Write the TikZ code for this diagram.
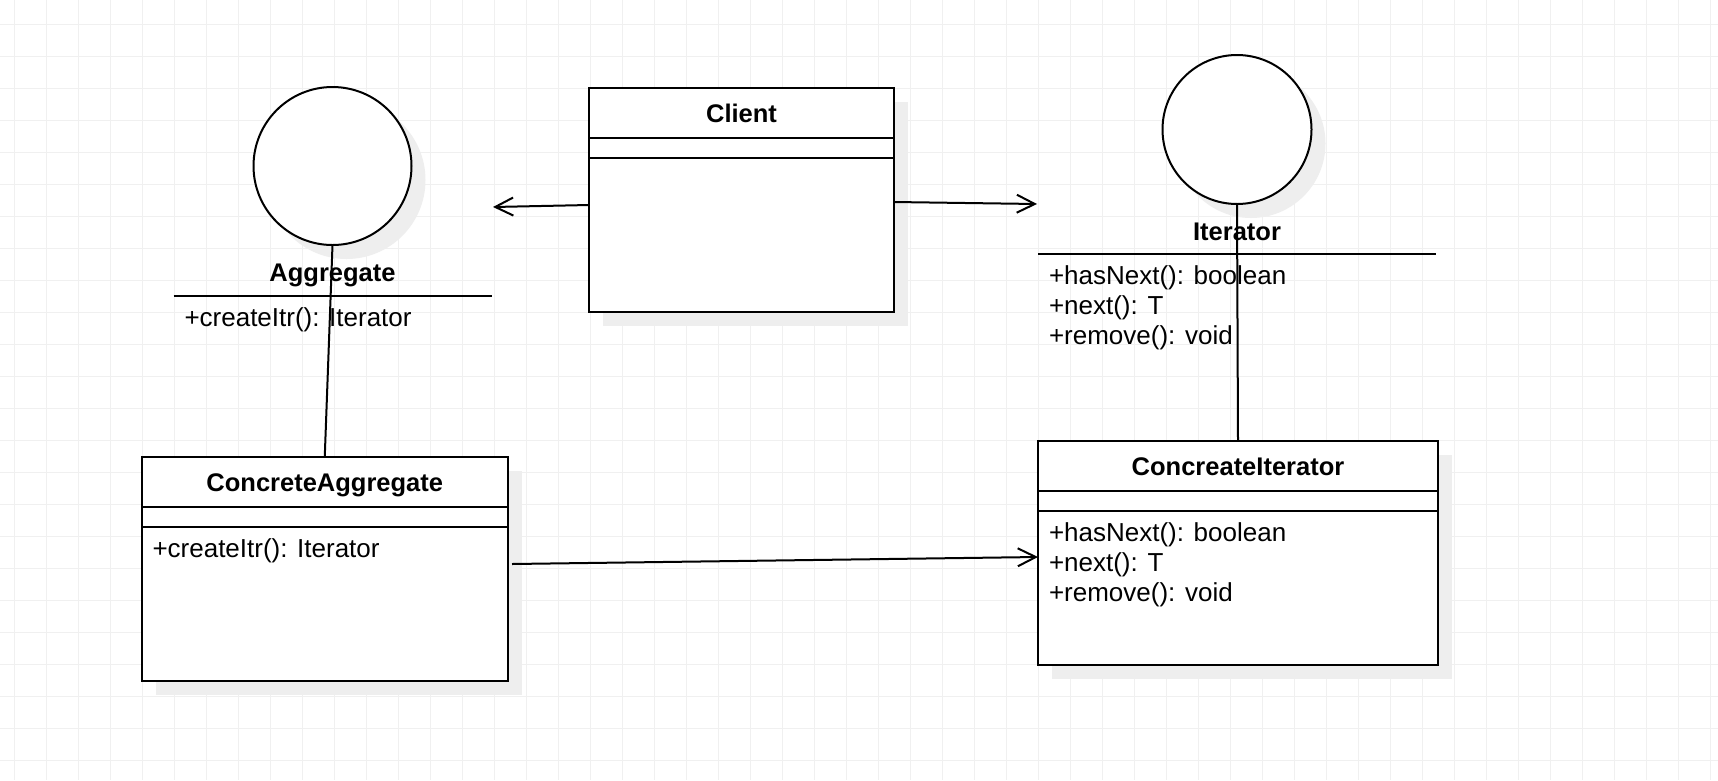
\documentclass[tikz,border=0pt]{standalone}
\usepackage{fontspec}
\setmainfont{Liberation Sans}
\usepackage{tikz}
\usetikzlibrary{arrows.meta, positioning, calc, fit, backgrounds}

\definecolor{gridgray}{RGB}{240,240,240}
\definecolor{shadowgray}{RGB}{238,238,238}

\begin{document}
\begin{tikzpicture}[
    x=1pt, y=-1pt,
    line width=2pt,
    font=\fontsize{26}{30}\selectfont,
    part/.style={rectangle, draw, fill=white, inner sep=0pt, outer sep=0pt},
    titlepart/.style={part, minimum height=50pt, text height=18pt, text depth=0pt, font=\fontsize{25.5}{30}\selectfont\bfseries},
    attrpart/.style={part, minimum height=20pt},
    opspart/.style={part, minimum height=154pt},
    iface/.style={circle, draw, fill=white, inner sep=0pt, outer sep=0pt},
    ifacename/.style={inner sep=0pt, outer sep=0pt, text height=18pt, text depth=0pt, font=\fontsize{25.5}{30}\selectfont\bfseries},
    opstext/.style={align=left, inner sep=0pt},
    shadowbox/.style={fill=shadowgray, inner sep=0pt, outer sep=0pt},
    assoc/.style={-{Straight Barb[length=18pt, width=18pt]}},
]

\useasboundingbox (0,0) rectangle (1718,780);

\begin{scope}[on background layer]
\fill[white] (0,0) rectangle (1718,780);
\draw[gridgray, line width=1pt, step=32pt, shift={(14.3,24.3)}] (-14.3,-24.3) grid (1703.7,755.7);
\end{scope}

% Client
\node[titlepart, minimum width=305pt] (client) at (741.5,113) {Client};
\node[attrpart, minimum width=305pt, below=0pt of client] (clientattr) {};
\node[opspart, minimum width=305pt, below=0pt of clientattr] (clientops) {};

% Aggregate side
\node[iface, minimum size=158pt] (agg) at (332.5,166) {};
\node[ifacename, minimum width=318pt, minimum height=48pt, below=3pt of agg] (aggname) {Aggregate};
\node[opstext, below right=11pt and 10pt of aggname.south west] (aggops) {+createItr(): Iterator};

\node[titlepart, minimum width=366.5pt] (cagg) at (324.75,482) {ConcreteAggregate};
\node[attrpart, minimum width=366.5pt, below=0pt of cagg] (caggattr) {};
\node[opspart, minimum width=366.5pt, below=0pt of caggattr] (caggops) {};
\node[opstext, below right=11pt and 10pt of caggops.north west] (caggopstext) {+createItr(): Iterator};

% Iterator side
\node[iface, minimum size=149pt] (iter) at (1237,129.5) {};
\node[ifacename, minimum width=398pt, minimum height=46pt, below=4pt of iter] (itername) {Iterator};
\node[opstext, below right=11pt and 10pt of itername.south west] (iterops) {+hasNext(): boolean\\+next(): T\\+remove(): void};

\node[titlepart, minimum width=400pt] (citer) at (1238,466) {ConcreateIterator};
\node[attrpart, minimum width=400pt, below=0pt of citer] (citerattr) {};
\node[opspart, minimum width=400pt, below=0pt of citerattr] (citerops) {};
\node[opstext, below right=11pt and 10pt of citerops.north west] (citeropstext) {+hasNext(): boolean\\+next(): T\\+remove(): void};

\begin{scope}[on background layer]
\node[shadowbox, fit=(client)(clientops), xshift=14pt, yshift=-14pt] {};
\node[shadowbox, fit=(cagg)(caggops), xshift=14pt, yshift=-14pt] {};
\node[shadowbox, fit=(citer)(citerops), xshift=14pt, yshift=-14pt] {};
\node[shadowbox, circle, minimum size=158pt, xshift=14pt, yshift=-14pt] at (agg) {};
\node[shadowbox, circle, minimum size=149pt, xshift=14pt, yshift=-14pt] at (iter) {};
\end{scope}

% separator lines under the interface names
\draw (aggname.south west) -- (aggname.south east);
\draw (itername.south west) -- (itername.south east);

% Arrows
\coordinate (aggtip) at (493,207);
\coordinate (itertip) at (1037,204);

\draw[assoc] ([yshift=-47pt]clientops.north west) -- (aggtip);
\draw[assoc] ([yshift=-44pt]clientops.north east) -- (itertip);
\draw[assoc] ([xshift=4pt, yshift=-37pt]caggops.north east) -- ([yshift=-46pt]citerops.north west);

\draw (agg.south) -- (cagg.north);
\draw (iter.south) -- (citer.north);

\end{tikzpicture}
\end{document}
